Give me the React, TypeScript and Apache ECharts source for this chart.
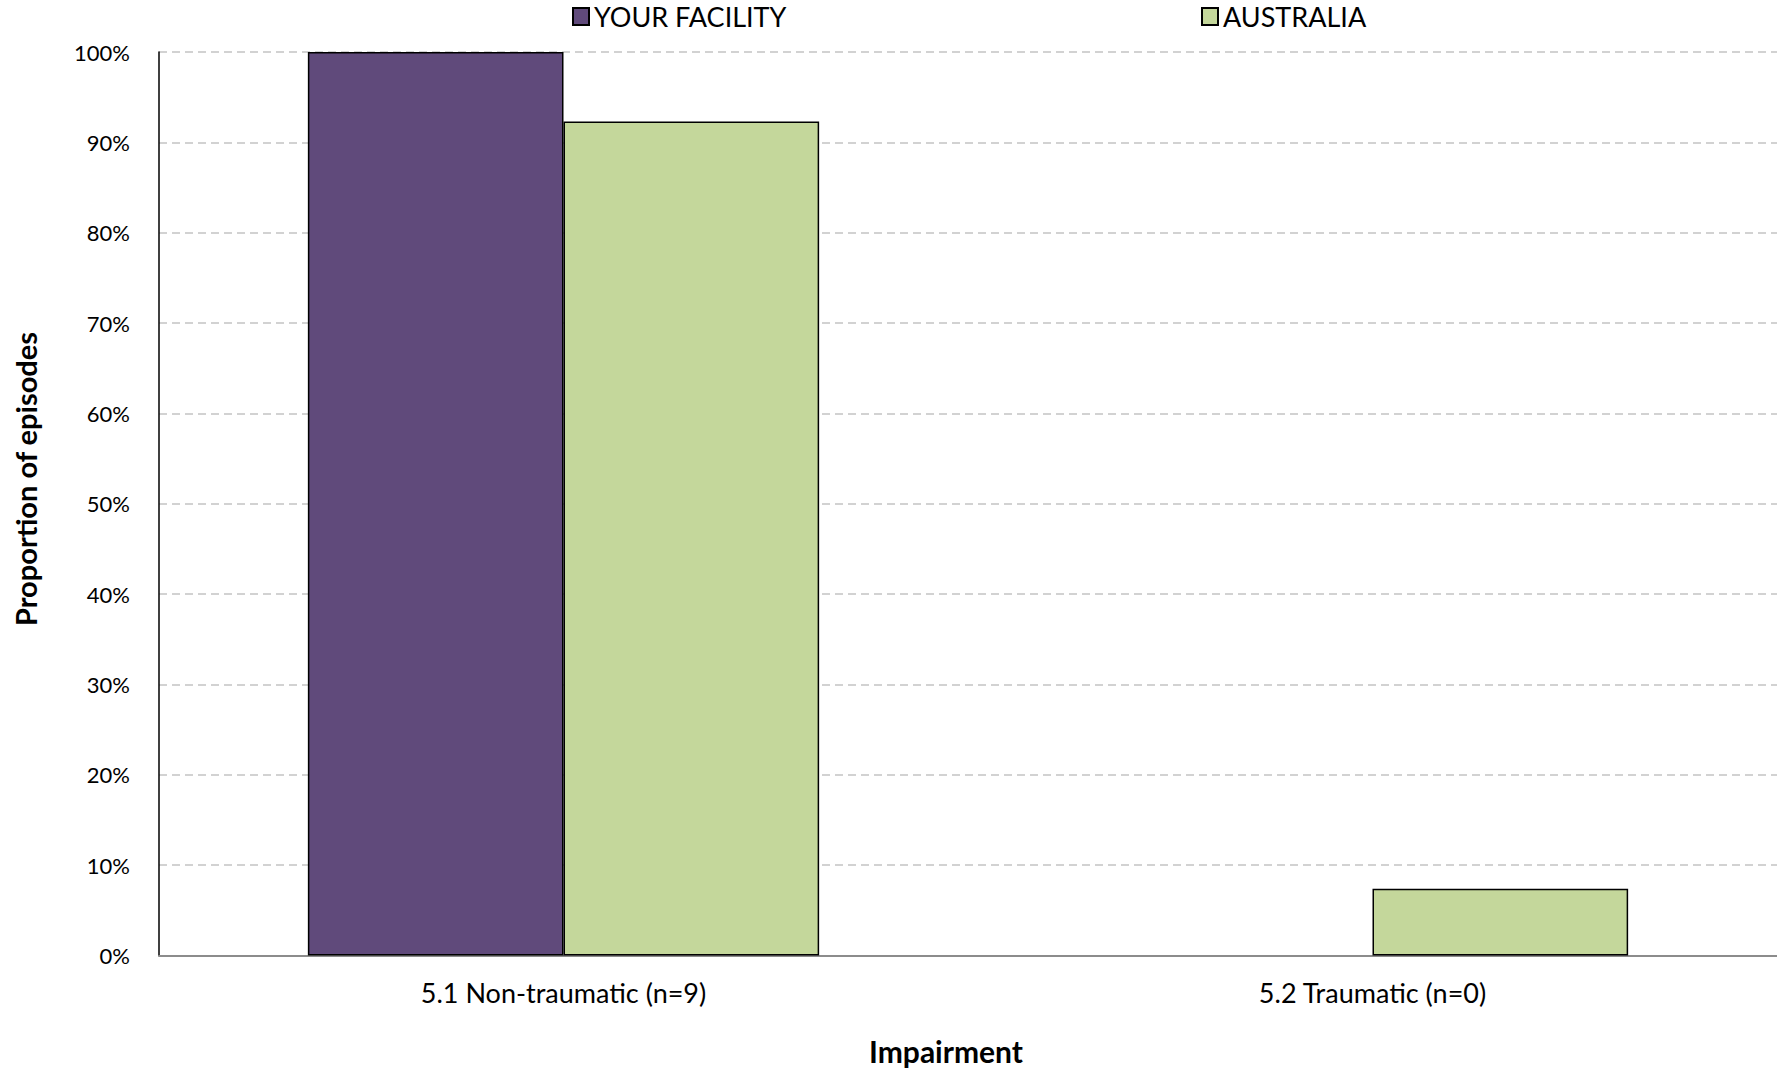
import React, { useEffect, useRef } from "react";
import * as echarts from "echarts";

const categories = ["5.1 Non-traumatic (n=9)", "5.2 Traumatic (n=0)"];
const facilityValues = [100, 0];
const australiaValues = [92.3, 7.4];
const seriesNames = ["YOUR FACILITY", "AUSTRALIA"];
const yTicks = [0, 10, 20, 30, 40, 50, 60, 70, 80, 90, 100];

const FONT = "Lato, 'Noto Sans', sans-serif";

const toBarData = (vals: number[]) =>
  vals.map((v) => (v === 0 ? { value: v, itemStyle: { borderWidth: 0 } } : v));

export default function App() {
  const ref = useRef<HTMLDivElement>(null);
  useEffect(() => {
    if (!ref.current) return;
    const chart = echarts.init(ref.current, null, { renderer: "svg" });
    chart.setOption({
      animation: false,
      backgroundColor: "#ffffff",
      textStyle: { fontFamily: FONT },
      legend: [
        {
          data: [seriesNames[0]],
          left: 572,
          top: 3,
          padding: 0,
          itemWidth: 16,
          itemHeight: 17,
          textStyle: { fontSize: 27, color: "#000", fontFamily: FONT },
          icon: "rect",
        },
        {
          data: [seriesNames[1]],
          left: 1201,
          top: 3,
          padding: 0,
          itemWidth: 16,
          itemHeight: 17,
          textStyle: { fontSize: 27, color: "#000", fontFamily: FONT },
          icon: "rect",
        },
      ],
      grid: { left: 159, right: 0, top: 52, bottom: 113.5, containLabel: false },
      xAxis: {
        type: "category",
        data: categories,
        axisLine: { show: true, lineStyle: { color: "#8c8c8c", width: 2 } },
        axisTick: { show: false },
        axisLabel: { fontSize: 27, color: "#000", margin: 23, fontFamily: FONT },
        splitLine: { show: false },
      },
      yAxis: {
        type: "value",
        min: yTicks[0],
        max: yTicks[yTicks.length - 1],
        interval: 10,
        axisLine: { show: true, lineStyle: { color: "#000", width: 1.5 } },
        axisTick: { show: false },
        axisLabel: {
          fontSize: 22,
          color: "#000",
          margin: 29,
          fontFamily: FONT,
          formatter: (v: number) => `${v}%`,
        },
        splitLine: {
          show: true,
          lineStyle: { color: "#c4c4c4", width: 1.5, type: [8, 5] },
        },
      },
      graphic: [
        {
          type: "text",
          x: 25,
          y: 479,
          rotation: Math.PI / 2,
          style: {
            text: "Proportion of episodes",
            font: `bold 29px ${FONT}`,
            fill: "#000",
            align: "center",
            verticalAlign: "middle",
          },
        },
        {
          type: "text",
          x: 946,
          y: 1051,
          style: {
            text: "Impairment",
            font: `bold 30px ${FONT}`,
            fill: "#000",
            align: "center",
            verticalAlign: "middle",
          },
        },
      ],
      series: [
        {
          name: seriesNames[0],
          type: "bar",
          data: toBarData(facilityValues),
          barGap: "0%",
          barCategoryGap: "36.8%",
          itemStyle: { color: "#604A7B", borderColor: "#000", borderWidth: 1.5 },
        },
        {
          name: seriesNames[1],
          type: "bar",
          data: toBarData(australiaValues),
          barGap: "0%",
          barCategoryGap: "36.8%",
          itemStyle: { color: "#C4D79B", borderColor: "#000", borderWidth: 1.5 },
        },
      ],
    });
    return () => chart.dispose();
  }, []);
  return (
    <div
      ref={ref}
      style={{ position: "fixed", left: 0, top: 0, width: 1777, height: 1069 }}
    />
  );
}
